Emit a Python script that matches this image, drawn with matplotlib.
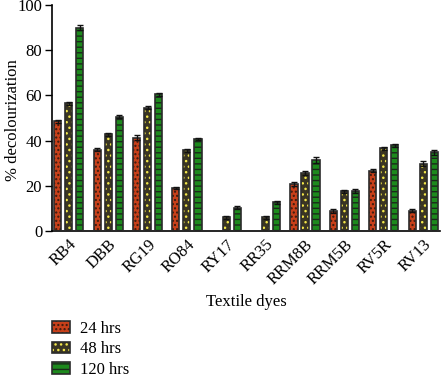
import numpy as np
import matplotlib.pyplot as plt
from matplotlib.patches import Patch

plt.rcParams['font.family'] = ['Liberation Serif', 'DejaVu Serif']
plt.rcParams['hatch.linewidth'] = 1.0

# data
dyes = ['RB4', 'DBB', 'RG19', 'RO84', 'RY17', 'RR35', 'RRM8B', 'RRM5B', 'RV5R', 'RV13']
hrs24 = [48.5, 36.0, 41.3, 19.0, 0.0, 0.0, 20.6, 8.6, 26.6, 9.0]
hrs48 = [56.4, 42.8, 54.6, 35.7, 6.0, 6.0, 25.6, 17.5, 36.5, 29.8]
hrs120 = [90.0, 50.6, 60.5, 40.7, 10.2, 12.6, 31.3, 17.5, 37.8, 34.7]
err24 = [0.8, 0.6, 1.0, 0.5, 0.0, 0.0, 0.9, 0.9, 0.7, 0.6]
err48 = [0.8, 0.7, 0.7, 0.6, 0.7, 0.7, 0.9, 0.6, 0.8, 1.0]
err120 = [1.0, 0.8, 0.7, 0.6, 0.6, 0.8, 1.2, 0.9, 0.8, 1.0]
labels = ['24 hrs', '48 hrs', '120 hrs']

# style per series: face colour, hatch colour, hatch
styles = [('#c8401a', '#3a1a0e', '....'),
          ('#3a3522', '#f2e64a', '...'),
          ('#1d8a1d', '#1a2a1a', '---')]

fig = plt.figure(figsize=(4.44, 3.81), dpi=100)
ax = fig.add_axes([0.117, 0.394, 0.874, 0.593])

x = np.arange(len(dyes))
w = 0.18
off = 0.28
handles = []
for i, (vals, errs) in enumerate([(hrs24, err24), (hrs48, err48), (hrs120, err120)]):
    fc, hc, hatch = styles[i]
    pos = x + (i - 1) * off
    ax.bar(pos, vals, w, facecolor=fc, edgecolor=hc, hatch=hatch, linewidth=0, zorder=2)
    ax.bar(pos, vals, w, fill=False, edgecolor='#2b2b2b', linewidth=1.2, zorder=3)
    mask = np.array(vals) > 0
    ax.errorbar(pos[mask], np.array(vals)[mask], yerr=np.array(errs)[mask], fmt='none',
                ecolor='#111111', elinewidth=1, capsize=2, capthick=1, zorder=4)
    handles.append((Patch(facecolor=fc, edgecolor=hc, hatch=hatch, linewidth=0),
                    Patch(fill=False, edgecolor='#2b2b2b', linewidth=1.2)))

ax.set_xlim(-0.43, 9.43)
ax.set_ylim(0, 100)
ax.set_yticks([0, 20, 40, 60, 80, 100])
ax.set_xticks(x)
ax.set_xticklabels(dyes, rotation=45, ha='right', rotation_mode='anchor', fontsize=12)
ax.tick_params(axis='x', length=0, pad=4)
ax.tick_params(axis='y', labelsize=12, length=5, width=1, direction='out', pad=2)
ax.spines['top'].set_visible(False)
ax.spines['right'].set_visible(False)
for s in ['left', 'bottom']:
    ax.spines[s].set_linewidth(1.2)
ax.set_ylabel('% decolourization', fontsize=12)
ax.yaxis.set_label_coords(-0.08, 0.49)
ax.set_xlabel('Textile dyes', fontsize=12, labelpad=5)

fig.legend(handles, labels, loc='upper left', bbox_to_anchor=(0.117, 0.158),
           frameon=False, fontsize=12, handlelength=1.1, handleheight=0.7,
           labelspacing=0.28, handletextpad=0.6, borderpad=0, borderaxespad=0)

fig.savefig('out.png', dpi=100)
